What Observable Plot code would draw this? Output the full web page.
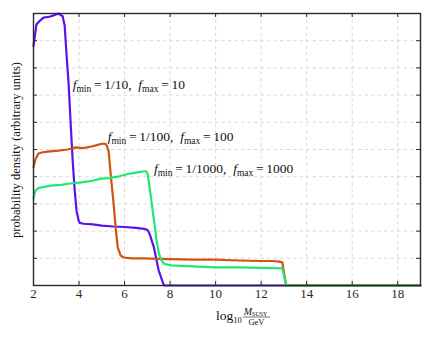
<!DOCTYPE html>
<html><head><meta charset="utf-8">
<script src="https://cdn.jsdelivr.net/npm/d3@7"></script>
<script src="https://cdn.jsdelivr.net/npm/@observablehq/plot@0.6"></script>
<style>body{margin:0;background:#fff}</style>
</head><body><div id="chart"></div>
<script>
// ---- data ----
const xTicks = [2, 4, 6, 8, 10, 12, 14, 16, 18];
const yTicks = [0, 1, 2, 3, 4, 5, 6, 7, 8, 9, 10];

const seriesNames = ["f10", "f100", "f1000"];
const seriesColors = ["#5b12ee", "#cf5410", "#1fe872"];

const blueX = [2.0, 2.13, 2.3, 2.44, 2.7, 2.88, 3.1, 3.28, 3.37, 3.45, 3.54, 3.63, 3.72, 3.81, 3.89, 3.98, 4.03, 4.2, 4.6, 5.0, 5.5, 6.0, 6.5, 6.85, 7.0, 7.1, 7.29, 7.5, 7.73, 8.0, 10, 13, 19];
const blueY = [8.8, 9.6, 9.75, 9.85, 9.88, 9.93, 10.0, 9.9, 9.55, 8.5, 7.45, 6.0, 4.6, 3.5, 2.75, 2.4, 2.3, 2.27, 2.25, 2.2, 2.17, 2.15, 2.12, 2.08, 2.05, 1.9, 1.4, 0.55, 0, 0, 0, 0, 0];

const orangeX = [2.0, 2.09, 2.22, 2.4, 2.62, 3.0, 3.5, 3.85, 4.16, 4.5, 4.75, 4.95, 5.1, 5.2, 5.3, 5.39, 5.46, 5.52, 5.6, 5.7, 5.83, 5.96, 6.3, 6.71, 8, 9, 10, 11, 12, 12.5, 12.79, 12.93, 13.1, 19];
const orangeY = [4.35, 4.65, 4.85, 4.9, 4.92, 4.95, 5.0, 5.08, 5.05, 5.1, 5.15, 5.2, 5.22, 5.18, 4.95, 4.1, 3.5, 3.0, 2.2, 1.4, 1.1, 1.03, 1.0, 1.0, 0.97, 0.95, 0.95, 0.92, 0.9, 0.9, 0.88, 0.85, 0, 0];

const greenX = [2.0, 2.09, 2.22, 2.31, 2.75, 3.2, 3.63, 4.2, 4.6, 4.95, 5.3, 5.7, 6.14, 6.5, 6.85, 6.95, 7.02, 7.15, 7.29, 7.4, 7.5, 7.6, 7.73, 8.04, 9, 10, 11, 12, 12.93, 13.1, 19];
const greenY = [3.2, 3.5, 3.58, 3.6, 3.67, 3.7, 3.75, 3.8, 3.85, 3.93, 3.95, 4.0, 4.1, 4.15, 4.2, 4.2, 4.1, 3.3, 2.4, 1.7, 1.2, 0.95, 0.8, 0.74, 0.7, 0.67, 0.67, 0.65, 0.63, 0, 0];

const labelX = [3.72, 5.26, 7.29];
const labelY = [7.39, 5.48, 4.30];
const labelMin = ["1/10", "1/100", "1/1000"];
const labelMax = ["10", "100", "1000"];

const yTitle = "probability density (arbitrary units)";

// ---- build ----
const allX = [blueX, orangeX, greenX];
const allY = [blueY, orangeY, greenY];
const rows = [];
seriesNames.forEach((s, i) => allX[i].forEach((x, j) => rows.push({s, color: seriesColors[i], x, y: allY[i][j]})));
const labels = labelX.map((x, i) => ({x, y: labelY[i], min: labelMin[i], max: labelMax[i]}));

const W = 433, H = 337, mL = 33, mR = 13, mT = 13, mB = 52;
const fw = W - mL - mR, fh = H - mT - mB;
const ink = "#2a2a2a";
const SERIF = "Liberation Serif";

const plot = Plot.plot({
  width: W, height: H,
  marginLeft: mL, marginRight: mR, marginTop: mT, marginBottom: mB,
  style: {fontFamily: SERIF, fontSize: "13px", color: ink, background: "#fff"},
  x: {domain: [2, 19]},
  y: {domain: [0, 10], axis: null},
  color: {type: "identity"},
  marks: [
    Plot.gridX(xTicks, {stroke: "#cfcfcf", strokeOpacity: 1, strokeDasharray: "3.5,3", strokeWidth: 0.8}),
    Plot.gridY(yTicks, {stroke: "#cfcfcf", strokeOpacity: 1, strokeDasharray: "3.5,3", strokeWidth: 0.8}),
    Plot.line(rows, {x: "x", y: "y", z: "s", stroke: "color", strokeWidth: 2.2, curve: "linear"}),
    Plot.tickX(xTicks, {x: d => d, insetTop: fh - 4, stroke: ink, strokeWidth: 1}),
    Plot.tickX(xTicks, {x: d => d, insetBottom: fh - 4, stroke: ink, strokeWidth: 1}),
    Plot.tickY(yTicks, {y: d => d, insetRight: fw - 4, stroke: ink, strokeWidth: 1}),
    Plot.tickY(yTicks, {y: d => d, insetLeft: fw - 4, stroke: ink, strokeWidth: 1}),
    Plot.frame({stroke: ink, strokeWidth: 1.4}),
    Plot.axisX({ticks: xTicks, tickSize: 0, tickPadding: 3, label: null, fontSize: 13}),
    Plot.text(labels, {x: "x", y: "y", text: d => `f min = ${d.min}, f max = ${d.max}`, textAnchor: "start", lineAnchor: "middle", fontSize: 13.5, fill: "#111"})
  ]
});
document.getElementById("chart").appendChild(plot);

const svg = d3.select(plot);
svg.selectAll("text").attr("font-family", SERIF);

// rich text for the curve labels (subscripts)
svg.selectAll('g[aria-label="text"] text').each(function(d, i) {
  const lab = labels[i];
  const t = d3.select(this).attr("font-family", SERIF);
  t.text(null);
  const add = (s, o = {}) => {
    const ts = t.append("tspan").text(s);
    for (const k in o) ts.attr(k, o[k]);
    return ts;
  };
  add("f", {"font-style": "italic"});
  add("min", {"font-size": 9.5, dy: 3});
  add("\u2009=\u2009" + lab.min + ",\u2002", {dy: -3});
  add("f", {"font-style": "italic"});
  add("max", {"font-size": 9.5, dy: 3});
  add("\u2009=\u2009" + lab.max, {dy: -3});
});

// y-axis title
svg.append("text")
  .attr("font-family", SERIF).attr("font-size", 12.5).attr("fill", "#111")
  .attr("text-anchor", "middle")
  .attr("transform", `translate(20,${(mT + H - mB) / 2 + 1}) rotate(-90)`)
  .text(yTitle);

// x-axis title: log10 (M_SUSY / GeV)
const g = svg.append("g").attr("fill", "#111").attr("font-family", SERIF).attr("text-anchor", "start");
const x0 = 216;
const t1 = g.append("text").attr("x", x0).attr("y", 320).attr("font-size", 13.5).attr("text-anchor", "start");
t1.append("tspan").text("log");
t1.append("tspan").text("10").attr("font-size", 8.5).attr("dy", 2.5);
const fx = x0 + t1.node().getBBox().width + 1;
const num = g.append("text").attr("y", 314.5).attr("font-size", 10).attr("text-anchor", "start");
num.append("tspan").text("M").attr("font-style", "italic");
num.append("tspan").text("SUSY").attr("font-size", 6).attr("dy", 1);
const nw = num.node().getBBox().width;
num.attr("x", fx + 1);
const fcx = fx + 1 + nw / 2;
g.append("line").attr("x1", fx).attr("x2", fx + nw + 2).attr("y1", 317).attr("y2", 317).attr("stroke", "#111").attr("stroke-width", 0.6);
g.append("text").attr("x", fcx).attr("y", 324.5).attr("font-size", 8.5).attr("text-anchor", "middle").text("GeV");
</script>
</body></html>
